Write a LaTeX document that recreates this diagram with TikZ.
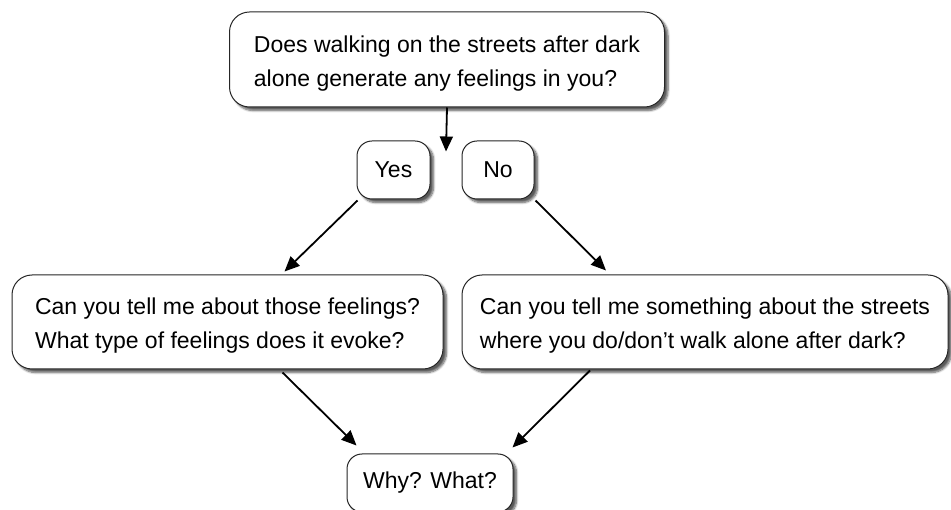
\documentclass[tikz,border=0pt]{standalone}
\usepackage{fontspec}
\setmainfont{Liberation Sans}
\usetikzlibrary{arrows.meta,shadows.blur,calc}
\newcommand{\topstrut}{\rule{0pt}{24pt}}
\begin{document}
\begin{tikzpicture}[x=1pt,y=-1pt,
  qbox/.style={draw=black!85, line width=1pt, fill=white, rounded corners=20pt,
    align=left, inner sep=0pt,
    font=\fontsize{23}{34}\selectfont,
    blur shadow={shadow xshift=3.5pt, shadow yshift=-3.5pt, shadow blur steps=7, shadow opacity=65}},
  abox/.style={qbox, rounded corners=15pt},
  conn/.style={line width=1.8pt, -{Triangle[length=15pt,width=13pt]}}
]
\useasboundingbox (0,0) rectangle (951,510);
\node[qbox, minimum width=435pt, minimum height=95pt] (top) at (447,59.5)
  {\topstrut Does walking on the streets after dark\\alone generate any feelings in you?};
\node[abox, minimum width=73pt, minimum height=58pt] (yes) at (393.5,170) {Yes};
\node[abox, minimum width=72pt, minimum height=58pt] (no) at (498,170) {No};
\node[qbox, minimum width=431pt, minimum height=94pt] (left) at (227.5,322)
  {\topstrut Can you tell me about those feelings?\\What type of feelings does it evoke?};
\node[qbox, minimum width=486pt, minimum height=94pt] (right) at (705,322)
  {\topstrut Can you tell me something about the streets\\where you do/don’t walk alone after dark?};
\node[abox, minimum width=166pt, minimum height=58pt] (bottom) at (430,483)
  {Why? What?};
\coordinate (split) at ($(top.south)+(-1,44)$);
\draw[conn] (top.south) -- (split);
\draw[conn] ([shift={(1,1)}]yes.south west) -- ([shift={(57,-3)}]left.north);
\draw[conn] ([shift={(1,1)}]no.south east) -- ([shift={(-99,-4)}]right.north);
\draw[conn] ([shift={(55,3)}]left.south) -- ([shift={(10,-8)}]bottom.north west);
\draw[conn] ([shift={(-115,1)}]right.south) -- ([shift={(-1,-6)}]bottom.north east);
\end{tikzpicture}
\end{document}
